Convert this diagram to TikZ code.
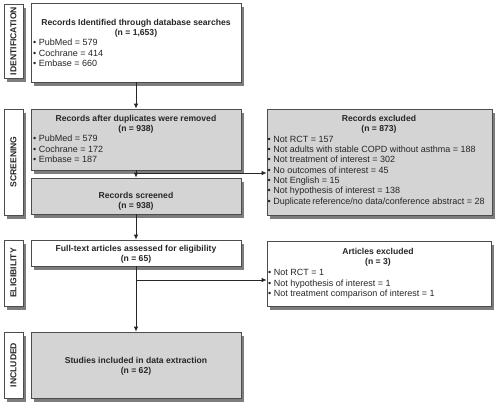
\documentclass[tikz,border=0pt]{standalone}
\usepackage{fontspec}
\setmainfont{Liberation Sans}
\usepackage{xcolor}
\usepackage{tikz}
\usetikzlibrary{calc,arrows.meta,shadows}
\definecolor{boxgrey}{HTML}{D4D4D4}
\definecolor{edge}{HTML}{4D4D4D}
\definecolor{ink}{HTML}{262626}
\tikzset{
  shade/.style={drop shadow={shadow xshift=3pt, shadow yshift=-4pt, fill=black!85, opacity=0.6}},
  greybox/.style={draw=edge, fill=boxgrey, line width=0.6pt, shade, inner sep=0pt},
  whitebox/.style={draw=edge, fill=white, line width=0.6pt, shade, inner sep=0pt},
  ttl/.style={font=\fontsize{8.6}{10.3}\selectfont\bfseries, align=center, text=ink, inner sep=0pt},
  lst/.style={font=\fontsize{9}{10.3}\selectfont, align=left, text=ink, inner sep=0pt, anchor=west},
  sidelab/.style={font=\fontsize{8.6}{10}\selectfont\bfseries, text=ink, rotate=90, inner sep=0pt},
  arr/.style={draw=ink, line width=0.9pt, -{Latex[length=5pt,width=4.5pt]}},
}

\begin{document}
\begin{tikzpicture}[x=1pt,y=-1pt]
  \useasboundingbox (0,0) rectangle (500,407);
  % stage labels
  \node[whitebox, minimum width=19pt, minimum height=74pt] (idside) at (13.5,41) {};
  \node[sidelab] (idsidetxt) at (idside) {IDENTIFICATION};
  \node[whitebox, minimum width=19pt, minimum height=106pt] (scside) at (13.5,162) {};
  \node[sidelab] (scsidetxt) at (scside) {SCREENING};
  \node[whitebox, minimum width=19pt, minimum height=66pt] (elside) at (13.5,273) {};
  \node[sidelab] (elsidetxt) at (elside) {ELIGIBILITY};
  \node[whitebox, minimum width=19pt, minimum height=66pt] (inside) at (13.5,365) {};
  \node[sidelab] (insidetxt) at (inside) {INCLUDED};
  % main column
  \node[whitebox, minimum width=210pt, minimum height=79pt] (idbox) at (136,42.5) {};
  \node[greybox, minimum width=210pt, minimum height=61pt] (dupbox) at (136,139.5) {};
  \node[greybox, minimum width=210pt, minimum height=36pt] (scrbox) at (136,196) {};
  \node[whitebox, minimum width=210pt, minimum height=26pt] (fullbox) at (136,253) {};
  \node[greybox, minimum width=210pt, minimum height=66pt] (inclbox) at (136,365) {};
  % exclusions
  \node[greybox, minimum width=225pt, minimum height=106pt] (exclbox) at (379.5,162) {};
  \node[whitebox, minimum width=224pt, minimum height=65pt] (artbox) at (379,273.5) {};
  % texts
  \node[ttl] (idttl) at (136,28) {Records Identified through database searches\\(n = 1,653)};
  \node[lst] (idlst) at (33,53) {\textbullet\ PubMed = 579\\\textbullet\ Cochrane = 414\\\textbullet\ Embase = 660};
  \node[ttl] (dupttl) at (136,124) {Records after duplicates were removed\\(n = 938)};
  \node[lst] (duplst) at (33,149) {\textbullet\ PubMed = 579\\\textbullet\ Cochrane = 172\\\textbullet\ Embase = 187};
  \node[ttl] (scrttl) at (136,201) {Records screened\\(n = 938)};
  \node[ttl] (fullttl) at (136,254.5) {Full-text articles assessed for eligibility\\(n = 65)};
  \node[ttl] (inclttl) at (136,366.5) {Studies included in data extraction\\(n = 62)};
  \node[ttl] (exclttl) at (379,124.5) {Records excluded\\(n = 873)};
  \node[lst] (excllst) at (267.5,171) {\textbullet\ Not RCT = 157\\\textbullet\ Not adults with stable COPD without asthma = 188\\\textbullet\ Not treatment of interest = 302\\\textbullet\ No outcomes of interest = 45\\\textbullet\ Not English = 15\\\textbullet\ Not hypothesis of interest = 138\\\textbullet\ Duplicate\,reference/no data/conference abstract = 28};
  \node[ttl] (artttl) at (378,257.5) {Articles excluded\\(n = 3)};
  \node[lst] (artlst) at (268,284) {\textbullet\ Not RCT = 1\\\textbullet\ Not hypothesis of interest = 1\\\textbullet\ Not treatment comparison of interest = 1};
  % flow
  \coordinate (split1) at (136,173);
  \coordinate (split2) at (136,280);
  \draw[arr] (idbox) -- (dupbox);
  \draw[arr] (dupbox) -- (scrbox);
  \draw[arr] (split1) -- (split1 -| exclbox.west);
  \draw[arr] (scrbox) -- (fullbox);
  \draw[arr] (fullbox) -- (inclbox);
  \draw[arr] (split2) -- (split2 -| artbox.west);
\end{tikzpicture}
\end{document}
